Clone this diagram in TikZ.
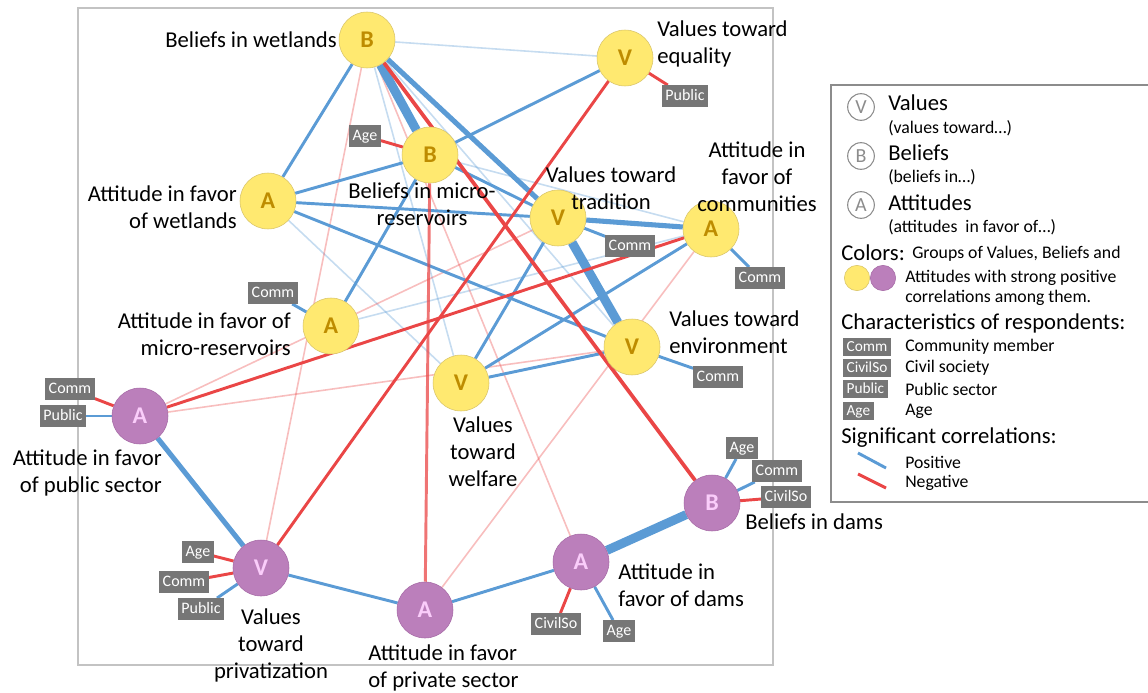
\documentclass[tikz,border=0pt]{standalone}
\usepackage{fontspec}
\setmainfont{Carlito}
\usetikzlibrary{backgrounds}
\definecolor{posc}{RGB}{91,155,213}
\definecolor{negc}{RGB}{234,70,70}
\definecolor{yelfill}{RGB}{255,233,112}
\definecolor{yelborder}{RGB}{215,195,105}
\definecolor{yeltext}{RGB}{190,140,0}
\definecolor{purfill}{RGB}{187,127,187}
\definecolor{purborder}{RGB}{165,105,165}
\definecolor{purtext}{RGB}{250,205,250}
\definecolor{tagfill}{RGB}{118,118,118}
\definecolor{framec}{RGB}{195,195,195}
\definecolor{legc}{RGB}{140,140,140}

\begin{document}
\begin{tikzpicture}
[x=0.75pt, y=-0.75pt,
 yel/.style={circle, draw=yelborder, fill=yelfill, minimum size=42pt, inner sep=0pt, text=yeltext, font=\fontsize{18}{18}\selectfont\bfseries},
 pur/.style={circle, draw=purborder, fill=purfill, minimum size=42pt, inner sep=0pt, text=purtext, font=\fontsize{18}{18}\selectfont\bfseries},
 chr/.style={fill=tagfill, text=white, inner xsep=2.5pt, inner ysep=0pt, minimum height=16pt, text height=8.5pt, text depth=2.5pt, font=\fontsize{12}{12}\selectfont},
 lab/.style={inner sep=0pt, font=\fontsize{17}{20.25}\selectfont},
 smalltxt/.style={inner sep=0pt, font=\fontsize{13.3}{15.5}\selectfont},
 p0/.style={draw=posc, draw opacity=0.35, line width=1.2pt},
 p1/.style={draw=posc, line width=2.2pt},
 p2/.style={draw=posc, line width=3.8pt},
 p3/.style={draw=posc, line width=6.8pt},
 n0/.style={draw=negc, draw opacity=0.35, line width=1.2pt},
 n1/.style={draw=negc, line width=2.2pt}]

\useasboundingbox (0,0) rectangle (1148,692);
\draw[framec, line width=0.8pt] (78,8) rectangle (773,665);

% values, beliefs and attitudes
\node[yel] (1) at (367,40) {B};
\node[yel] (2) at (625,58) {V};
\node[yel] (3) at (430,155) {B};
\node[yel] (4) at (268,201) {A};
\node[yel] (5) at (558,218) {V};
\node[yel] (6) at (711,229) {A};
\node[yel] (7) at (331,326) {A};
\node[yel] (8) at (632,347) {V};
\node[yel] (9) at (461,383) {V};
\node[pur] (10) at (140,416) {A};
\node[pur] (11) at (712,503) {B};
\node[pur] (12) at (261,568) {V};
\node[pur] (13) at (581,562) {A};
\node[pur] (14) at (425,610) {A};

\node[lab, anchor=east] (1t) at (337,40) {Beliefs in wetlands};
\node[lab, anchor=west, align=left] (2t) at (657,44) {Values toward\\equality};
\node[lab, align=center] (3t) at (422,204) {Beliefs in micro-\\reservoirs};
\node[lab, anchor=east, align=right] (4t) at (237,207) {Attitude in favor\\of wetlands};
\node[lab, align=center] (5t) at (611,188) {Values toward\\tradition};
\node[lab, align=center] (6t) at (757,177) {Attitude in\\favor of\\communities};
\node[lab, anchor=east, align=right] (7t) at (291,334) {Attitude in favor of\\micro-reservoirs};
\node[lab, anchor=west, align=left] (8t) at (669,332) {Values toward\\environment};
\node[lab, align=center] (9t) at (483,452) {Values\\toward\\welfare};
\node[lab, anchor=east, align=right] (10t) at (162,473) {Attitude in favor\\of public sector};
\node[lab, anchor=west] (11t) at (745,522) {Beliefs in dams};
\node[lab, align=center] (12t) at (271,645) {Values\\toward\\privatization};
\node[lab, anchor=west, align=left] (13t) at (618,585) {Attitude in\\favor of dams};
\node[lab, anchor=west, align=left] (14t) at (368,668) {Attitude in favor\\of private sector};

% characteristics of respondents
\node[chr] (3a) at (365,136) {Age};
\node[chr] (2a) at (685,96) {Public};
\node[chr] (5a) at (630,246) {Comm};
\node[chr] (6a) at (760,278) {Comm};
\node[chr] (7a) at (273,293) {Comm};
\node[chr] (8a) at (718,377) {Comm};
\node[chr] (10a) at (70,389) {Comm};
\node[chr] (10b) at (63,416) {Public};
\node[chr] (11a) at (742,448) {Age};
\node[chr] (11b) at (777,471) {Comm};
\node[chr] (11c) at (786,497) {CivilSo};
\node[chr] (12a) at (198,552) {Age};
\node[chr] (12b) at (184,582) {Comm};
\node[chr] (12c) at (201,609) {Public};
\node[chr] (13a) at (556,624) {CivilSo};
\node[chr] (13b) at (619,631) {Age};

\begin{scope}[on background layer]
\draw[p0] (1) -- (2);
\draw[p0] (1) -- (9);
\draw[p0] (1) -- (8);
\draw[p0] (3) -- (6);
\draw[p0] (4) -- (9);
\draw[p0] (7) -- (6);
\draw[n0] (1) -- (12);
\draw[n0] (1) -- (13);
\draw[n0] (10) -- (5);
\draw[n0] (10) -- (8);
\draw[n0] (14) -- (6);
\draw[p1] (1) -- (4);
\draw[p1] (3) -- (4);
\draw[p1] (3) -- (2);
\draw[p1] (3) -- (7);
\draw[p1] (3) -- (5);
\draw[p1] (4) -- (5);
\draw[p1] (4) -- (8);
\draw[p1] (9) -- (5);
\draw[p1] (9) -- (8);
\draw[p1] (9) -- (6);
\draw[p1] (14) -- (13);
\draw[p1] (14) -- (12);
\draw[p2] (1) -- (5);
\draw[p2] (5) -- (6);
\draw[p2] (10) -- (12);
\draw[p3] (1) -- (3);
\draw[p3] (5) -- (8);
\draw[p3] (11) -- (13);
\draw[n1, draw opacity=0.75] (3) -- (14);
\draw[n1] (2) -- (12);
\draw[n1] (10) -- (6);
\draw[n1, line width=2.8pt] (1) -- (11);
% lines to respondents
\draw[n1] (3a) -- (3);
\draw[n1] (2a) -- (2);
\draw[p1] (5a) -- (5);
\draw[p1] (6a) -- (6);
\draw[p1] (7a) -- (7);
\draw[p1] (8a) -- (8);
\draw[n1] (10a) -- (10);
\draw[p1] (10b) -- (10);
\draw[p1] (11a) -- (11);
\draw[p1] (11b) -- (11);
\draw[n1] (11c) -- (11);
\draw[n1] (12a) -- (12);
\draw[n1] (12b) -- (12);
\draw[p1] (12c) -- (12);
\draw[n1] (13a) -- (13);
\draw[p1] (13b) -- (13);
\end{scope}

% legend
\draw[legc, line width=0.8pt] (831,85) rectangle (1152,502);
\node[circle, draw=legc, line width=0.8pt, minimum size=20pt, inner sep=0pt, text=legc, font=\fontsize{15}{15}\selectfont] (l1) at (861,107) {V};
\node[circle, draw=legc, line width=0.8pt, minimum size=20pt, inner sep=0pt, text=legc, font=\fontsize{15}{15}\selectfont] (l2) at (861,156) {B};
\node[circle, draw=legc, line width=0.8pt, minimum size=20pt, inner sep=0pt, text=legc, font=\fontsize{15}{15}\selectfont] (l3) at (861,205) {A};
\node[lab, anchor=west] (l1t) at (888,103) {Values};
\node[smalltxt, anchor=west] (l1s) at (888,128) {(values toward…)};
\node[lab, anchor=west] (l2t) at (888,153) {Beliefs};
\node[smalltxt, anchor=west] (l2s) at (888,177) {(beliefs in…)};
\node[lab, anchor=west] (l3t) at (888,203) {Attitudes};
\node[smalltxt, anchor=west] (l3s) at (888,227) {(attitudes\ \ in favor of…)};
\node[lab, anchor=west] (l4t) at (841,253) {Colors:};
\node[smalltxt, anchor=west] (l4s) at (912,254) {Groups of Values, Beliefs and};
\node[circle, draw=yelborder, fill=yelfill, minimum size=19pt, inner sep=0pt] (l4a) at (857,278) {};
\node[circle, draw=purborder, fill=purfill, minimum size=19pt, inner sep=0pt] (l4b) at (883,278) {};
\node[smalltxt, anchor=west, align=left] (l4u) at (905,288) {Attitudes with strong positive\\correlations among them.};
\node[lab, anchor=west] (l5t) at (841,323) {Characteristics of respondents:};
\node[chr, anchor=west, minimum height=14pt, text height=8pt, text depth=2pt, font=\fontsize{11.5}{11.5}\selectfont] (l5a) at (843,347) {Comm};
\node[chr, anchor=west, minimum height=14pt, text height=8pt, text depth=2pt, font=\fontsize{11.5}{11.5}\selectfont] (l5b) at (843,368) {CivilSo};
\node[chr, anchor=west, minimum height=14pt, text height=8pt, text depth=2pt, font=\fontsize{11.5}{11.5}\selectfont] (l5c) at (843,389) {Public};
\node[chr, anchor=west, minimum height=14pt, text height=8pt, text depth=2pt, font=\fontsize{11.5}{11.5}\selectfont] (l5d) at (843,411) {Age};
\node[smalltxt, anchor=west] (l5e) at (905,347) {Community member};
\node[smalltxt, anchor=west] (l5f) at (905,368) {Civil society};
\node[smalltxt, anchor=west] (l5g) at (905,389) {Public sector};
\node[smalltxt, anchor=west] (l5h) at (905,411) {Age};
\node[lab, anchor=west] (l6t) at (841,438) {Significant correlations:};
\coordinate (l6a) at (858,453);
\coordinate (l6b) at (886,468);
\coordinate (l6c) at (858,474);
\coordinate (l6d) at (886,488);
\draw[posc, line width=2.2pt] (l6a) -- (l6b);
\draw[negc, line width=2.2pt] (l6c) -- (l6d);
\node[smalltxt, anchor=west] (l6e) at (905,462) {Positive};
\node[smalltxt, anchor=west] (l6f) at (905,483) {Negative};
\end{tikzpicture}
\end{document}
